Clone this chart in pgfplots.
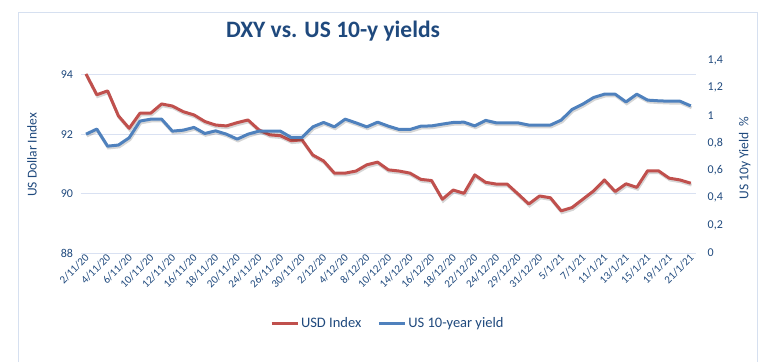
\documentclass[border=0pt]{standalone}
\usepackage{fontspec}
\setmainfont{Carlito}
\usepackage{pgfplots}
\usepackage{pgfplotstable}
\pgfplotsset{compat=1.18}
\definecolor{usdred}{RGB}{192,80,77}
\definecolor{usblue}{RGB}{79,129,189}
\definecolor{navy}{RGB}{31,73,125}
\definecolor{gridc}{RGB}{217,225,242}
\definecolor{framec}{RGB}{214,224,240}

\pgfplotstableread{
i usd
0 94.03
1 93.33
2 93.46
3 92.62
4 92.20
5 92.71
6 92.71
7 93.02
8 92.95
9 92.76
10 92.65
11 92.43
12 92.31
13 92.28
14 92.39
15 92.48
16 92.15
17 91.98
18 91.95
19 91.78
20 91.81
21 91.30
22 91.10
23 90.69
24 90.69
25 90.76
26 90.97
27 91.06
28 90.80
29 90.76
30 90.69
31 90.48
32 90.44
33 89.81
34 90.12
35 90.01
36 90.63
37 90.38
38 90.32
39 90.32
40 89.99
41 89.65
42 89.92
43 89.86
44 89.42
45 89.53
46 89.81
47 90.09
48 90.46
49 90.07
50 90.33
51 90.21
52 90.77
53 90.77
54 90.52
55 90.46
56 90.35
}\usdtable

\pgfplotstableread{
i yld
0 0.862
1 0.899
2 0.775
3 0.783
4 0.836
5 0.957
6 0.971
7 0.971
8 0.884
9 0.891
10 0.911
11 0.867
12 0.886
13 0.862
14 0.826
15 0.862
16 0.884
17 0.884
18 0.884
19 0.838
20 0.838
21 0.915
22 0.947
23 0.915
24 0.971
25 0.944
26 0.915
27 0.949
28 0.920
29 0.896
30 0.896
31 0.920
32 0.922
33 0.935
34 0.947
35 0.949
36 0.922
37 0.962
38 0.944
39 0.944
40 0.944
41 0.928
42 0.928
43 0.928
44 0.964
45 1.041
46 1.080
47 1.128
48 1.152
49 1.152
50 1.096
51 1.152
52 1.109
53 1.104
54 1.101
55 1.101
56 1.067
}\yldtable

\pgfplotsset{
  common/.style={
    scale only axis, width=615.6pt, height=193pt,
    at={(80.6pt,109pt)}, anchor=south west,
    xmin=-0.5, xmax=56.5,
    axis line style={draw=none},
    major tick length=0pt,
    /pgf/number format/assume math mode=true,
    ticklabel style={font=\fontsize{12}{14}\selectfont, text=navy},
  },
  shadowline/.style={black, opacity=0.16, line width=3pt, shift={(0.8pt,-1.8pt)}, forget plot},
}

\begin{document}
\begin{tikzpicture}
\useasboundingbox (0pt,0pt) rectangle (779pt,362pt);
\draw[framec, line width=0.8pt] (18pt,0pt) -- (18pt,350pt) -- (757pt,350pt) -- (757pt,0pt);

\begin{axis}[common,
  ymin=88, ymax=94.5,
  ytick={88,90,92,94},
  ymajorgrids, grid style={gridc, line width=0.8pt},
  yticklabel style={xshift=-4pt},
  xtick={0,2,...,56},
  xticklabels={2/11/20,4/11/20,6/11/20,10/11/20,12/11/20,16/11/20,18/11/20,20/11/20,24/11/20,26/11/20,30/11/20,2/12/20,4/12/20,8/12/20,10/12/20,14/12/20,16/12/20,18/12/20,22/12/20,24/12/20,29/12/20,31/12/20,5/1/21,7/1/21,11/1/21,13/1/21,15/1/21,19/1/21,21/1/21},
  xticklabel style={rotate=45, anchor=east, yshift=-3pt, xshift=2pt, font=\fontsize{11}{13}\selectfont},
  ylabel={US Dollar Index},
  every axis y label/.style={at={(axis description cs:-0.079,0.508)}, rotate=90, anchor=center, font=\fontsize{13.5}{15}\selectfont, text=navy},
  title={DXY vs. US 10-y yields},
  every axis title/.style={at={(axis description cs:0.41,1.150)}, anchor=center, font=\fontsize{23.5}{26}\selectfont\bfseries, text=navy},
]
\addplot[shadowline] table[x=i, y=usd] {\usdtable};
\addplot[usdred, line width=3pt, line join=round] table[x=i, y=usd] {\usdtable};
\end{axis}

\begin{axis}[common,
  ymin=0, ymax=1.4,
  ytick={0,0.2,...,1.4},
  axis x line=none,
  axis y line*=right,
  axis line style={draw=none},
  yticklabel style={xshift=8pt, /pgf/number format/.cd, use comma, fixed, precision=1},
  ylabel={US 10y Yield\ \ \%},
  every axis y label/.style={at={(axis description cs:1.079,0.492)}, rotate=90, anchor=center, font=\fontsize{13.5}{15}\selectfont, text=navy},
  legend columns=2,
  legend style={at={(0.499,-0.363)}, anchor=center, draw=none, fill=none,
    font=\fontsize{14.5}{16}\selectfont, text=navy,
    /tikz/every even column/.append style={column sep=14pt}},
  legend image code/.code={\draw[#1] (0pt,0pt) -- (26pt,0pt);},
]
\addlegendimage{usdred, line width=3pt}
\addlegendentry{USD Index}
\addplot[shadowline] table[x=i, y=yld] {\yldtable};
\addplot[usblue, line width=3pt, line join=round] table[x=i, y=yld] {\yldtable};
\addlegendentry{US 10-year yield}
\end{axis}
\end{tikzpicture}
\end{document}
